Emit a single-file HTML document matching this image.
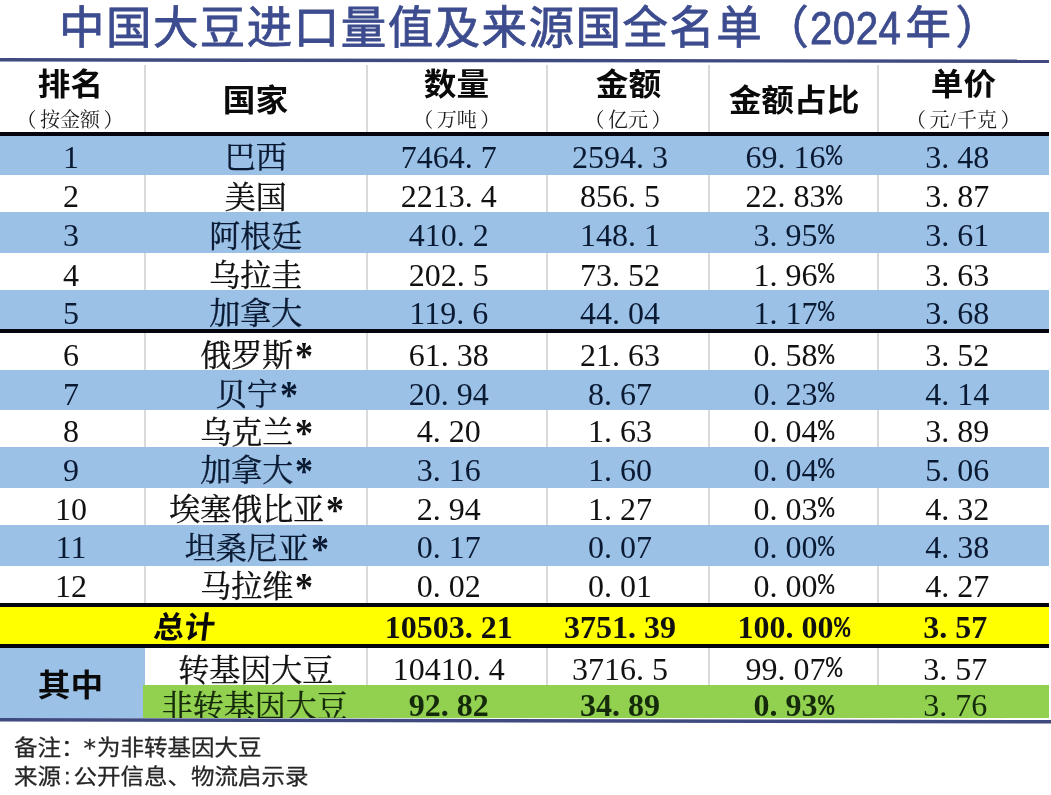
<!DOCTYPE html><html><head><meta charset="utf-8"><style>
*{margin:0;padding:0;box-sizing:border-box}
html,body{width:1051px;height:795px;overflow:hidden;background:#fff}
body{position:relative;font-family:"Liberation Serif","Noto Serif CJK SC",serif;color:#111}
.abs{position:absolute}
.title{position:absolute;left:59px;top:-1.3px;font-family:"Liberation Sans","Noto Sans CJK SC",sans-serif;font-weight:400;-webkit-text-stroke:0.8px #3d4c8e;font-size:45.5px;letter-spacing:1.45px;line-height:1.3;color:#3d4c8e;white-space:nowrap}
.title .dg{font-family:"Liberation Sans",sans-serif;display:inline-block;transform:scaleX(0.885);transform-origin:0 50%;margin-right:-8px;letter-spacing:0.5px}
.c{position:absolute;display:flex;align-items:center;justify-content:center;white-space:nowrap;font-size:32px;line-height:1}
.c>span,.c>div{display:block}
.n{padding-right:0.5em}
.d{display:inline-block;width:0.5em;text-align:left}
.p{display:inline-block;width:0.5em;text-align:left;line-height:0}
.p i{font-style:normal;font-family:"Liberation Mono",monospace;display:inline-block;transform:scale(0.85,0.93);transform-origin:0 78%}
.ast{display:inline-block;width:16px;margin-left:2px;text-align:left;font-family:"Liberation Serif",serif;font-weight:bold;font-size:40px;line-height:0;position:relative;top:3px;transform:scaleX(0.9);transform-origin:0 50%;-webkit-text-stroke:0}
.hb{font-family:"Liberation Sans","Noto Sans CJK SC",sans-serif;font-weight:700;font-size:30.5px;color:#0a0a0a;transform:scaleX(1.07);position:relative;top:2px}
.hs{font-family:"Liberation Serif","Noto Serif CJK SC",serif;font-size:20px;color:#1a1a1a;position:relative;top:1px}
.sl{font-family:"Liberation Serif",serif;font-size:19px;position:relative;top:-1px;margin:0 1px}.lp{margin-right:3.5px}.rp{margin-left:3.5px}
.cn{-webkit-text-stroke:0.35px currentColor;font-size:31px}
.vl{position:absolute;width:2px;background:#dadada}
.b{font-weight:bold}
.foot{position:absolute;left:14px;font-family:"Liberation Sans","Noto Sans CJK SC",sans-serif;font-size:23.5px;color:#262626;-webkit-text-stroke:0.3px #262626;white-space:nowrap;line-height:1;letter-spacing:0px;transform:scaleY(0.9);transform-origin:0 0}
.fa{font-family:"DejaVu Sans",sans-serif;font-size:25px;display:inline-block;line-height:0;position:relative;top:0.5px;margin-right:1px;margin-left:-1px}
.fc{margin:0 3px}
</style></head><body>
<div class="title">中国大豆进口量值及来源国全名单（<span class="dg">2024</span>年<span style="margin-left:3px">）</span></div>
<svg class="abs" style="left:0;top:0" width="1051" height="795"><polygon points="0,58 1049,59.6 1049,63 0,61.6" fill="#3f4a80"/></svg>
<div class="vl" style="left:144px;top:65px;height:67px"></div>
<div class="vl" style="left:365.5px;top:65px;height:67px"></div>
<div class="vl" style="left:546px;top:65px;height:67px"></div>
<div class="vl" style="left:708px;top:65px;height:67px"></div>
<div class="vl" style="left:877px;top:65px;height:67px"></div>
<div class="c " style="left:0px;width:145px;top:62px;height:40px;padding-bottom:0px;padding-right:5px"><span class="hb">排名</span></div>
<div class="c " style="left:0px;width:145px;top:103px;height:30px;padding-top:2px;padding-right:5px"><span class="hs"><span class="lp">（</span>按金额<span class="rp">）</span></span></div>
<div class="c " style="left:145px;width:221.5px;top:62px;height:70px;padding-top:3px"><span class="hb">国家</span></div>
<div class="c " style="left:366.5px;width:180.5px;top:62px;height:40px;padding-bottom:0px;padding-right:0px"><span class="hb">数量</span></div>
<div class="c " style="left:366.5px;width:180.5px;top:103px;height:30px;padding-top:2px;padding-right:0px"><span class="hs"><span class="lp">（</span>万吨<span class="rp">）</span></span></div>
<div class="c " style="left:547px;width:162px;top:62px;height:40px;padding-bottom:0px;padding-right:0px"><span class="hb">金额</span></div>
<div class="c " style="left:547px;width:162px;top:103px;height:30px;padding-top:2px;padding-right:0px"><span class="hs"><span class="lp">（</span>亿元<span class="rp">）</span></span></div>
<div class="c " style="left:709px;width:169px;top:62px;height:70px;padding-top:3px"><span class="hb">金额占比</span></div>
<div class="c " style="left:878px;width:170.5px;top:62px;height:40px;padding-bottom:0px;padding-right:0px"><span class="hb">单价</span></div>
<div class="c " style="left:878px;width:170.5px;top:103px;height:30px;padding-top:2px;padding-right:0px"><span class="hs"><span class="lp">（</span>元<span class="sl">/</span>千克<span class="rp">）</span></span></div>
<div class="abs" style="left:0;top:132px;width:1049px;height:4px;background:#050510"></div>
<div class="abs" style="left:0;top:136px;width:1049px;height:39px;background:#9bc1e6"></div>
<div class="c " style="left:0px;width:145px;top:136px;height:39px;color:#0b1a33;padding-top:2.8px;padding-right:3px;">1</div>
<div class="c " style="left:145px;width:221.5px;top:136px;height:39px;color:#0b1a33;padding-top:4.4px;"><span class="cn">巴西</span></div>
<div class="c " style="left:366.5px;width:180.5px;top:136px;height:39px;color:#0b1a33;padding-top:2.8px;"><span class="n">7464<span class="d">.</span>7</span></div>
<div class="c " style="left:547px;width:162px;top:136px;height:39px;color:#0b1a33;padding-top:2.8px;"><span class="n">2594<span class="d">.</span>3</span></div>
<div class="c " style="left:709px;width:169px;top:136px;height:39px;color:#0b1a33;padding-top:2.8px;">69<span class="d">.</span>16<span class="p"><i>%</i></span></div>
<div class="c " style="left:878px;width:170.5px;top:136px;height:39px;color:#0b1a33;padding-top:2.8px;padding-left:4px;"><span class="n">3<span class="d">.</span>48</span></div>
<div class="abs" style="left:0;top:175px;width:1049px;height:37px;background:#fff"></div>
<div class="vl" style="left:144px;top:175px;height:37px"></div>
<div class="vl" style="left:365.5px;top:175px;height:37px"></div>
<div class="vl" style="left:546px;top:175px;height:37px"></div>
<div class="vl" style="left:708px;top:175px;height:37px"></div>
<div class="vl" style="left:877px;top:175px;height:37px"></div>
<div class="c " style="left:0px;width:145px;top:175px;height:37px;color:#111;padding-top:5.4px;padding-right:3px;">2</div>
<div class="c " style="left:145px;width:221.5px;top:175px;height:37px;color:#111;padding-top:7.0px;"><span class="cn">美国</span></div>
<div class="c " style="left:366.5px;width:180.5px;top:175px;height:37px;color:#111;padding-top:5.4px;"><span class="n">2213<span class="d">.</span>4</span></div>
<div class="c " style="left:547px;width:162px;top:175px;height:37px;color:#111;padding-top:5.4px;"><span class="n">856<span class="d">.</span>5</span></div>
<div class="c " style="left:709px;width:169px;top:175px;height:37px;color:#111;padding-top:5.4px;">22<span class="d">.</span>83<span class="p"><i>%</i></span></div>
<div class="c " style="left:878px;width:170.5px;top:175px;height:37px;color:#111;padding-top:5.4px;padding-left:4px;"><span class="n">3<span class="d">.</span>87</span></div>
<div class="abs" style="left:0;top:212px;width:1049px;height:41px;background:#9bc1e6"></div>
<div class="c " style="left:0px;width:145px;top:212px;height:41px;color:#0b1a33;padding-top:5.4px;padding-right:3px;">3</div>
<div class="c " style="left:145px;width:221.5px;top:212px;height:41px;color:#0b1a33;padding-top:7.0px;"><span class="cn">阿根廷</span></div>
<div class="c " style="left:366.5px;width:180.5px;top:212px;height:41px;color:#0b1a33;padding-top:5.4px;"><span class="n">410<span class="d">.</span>2</span></div>
<div class="c " style="left:547px;width:162px;top:212px;height:41px;color:#0b1a33;padding-top:5.4px;"><span class="n">148<span class="d">.</span>1</span></div>
<div class="c " style="left:709px;width:169px;top:212px;height:41px;color:#0b1a33;padding-top:5.4px;">3<span class="d">.</span>95<span class="p"><i>%</i></span></div>
<div class="c " style="left:878px;width:170.5px;top:212px;height:41px;color:#0b1a33;padding-top:5.4px;padding-left:4px;"><span class="n">3<span class="d">.</span>61</span></div>
<div class="abs" style="left:0;top:253px;width:1049px;height:37px;background:#fff"></div>
<div class="vl" style="left:144px;top:253px;height:37px"></div>
<div class="vl" style="left:365.5px;top:253px;height:37px"></div>
<div class="vl" style="left:546px;top:253px;height:37px"></div>
<div class="vl" style="left:708px;top:253px;height:37px"></div>
<div class="vl" style="left:877px;top:253px;height:37px"></div>
<div class="c " style="left:0px;width:145px;top:253px;height:37px;color:#111;padding-top:6.6px;padding-right:3px;">4</div>
<div class="c " style="left:145px;width:221.5px;top:253px;height:37px;color:#111;padding-top:8.2px;"><span class="cn">乌拉圭</span></div>
<div class="c " style="left:366.5px;width:180.5px;top:253px;height:37px;color:#111;padding-top:6.6px;"><span class="n">202<span class="d">.</span>5</span></div>
<div class="c " style="left:547px;width:162px;top:253px;height:37px;color:#111;padding-top:6.6px;"><span class="n">73<span class="d">.</span>52</span></div>
<div class="c " style="left:709px;width:169px;top:253px;height:37px;color:#111;padding-top:6.6px;">1<span class="d">.</span>96<span class="p"><i>%</i></span></div>
<div class="c " style="left:878px;width:170.5px;top:253px;height:37px;color:#111;padding-top:6.6px;padding-left:4px;"><span class="n">3<span class="d">.</span>63</span></div>
<div class="abs" style="left:0;top:290px;width:1049px;height:39px;background:#9bc1e6"></div>
<div class="c " style="left:0px;width:145px;top:290px;height:39px;color:#0b1a33;padding-top:6.4px;padding-right:3px;">5</div>
<div class="c " style="left:145px;width:221.5px;top:290px;height:39px;color:#0b1a33;padding-top:8.0px;"><span class="cn">加拿大</span></div>
<div class="c " style="left:366.5px;width:180.5px;top:290px;height:39px;color:#0b1a33;padding-top:6.4px;"><span class="n">119<span class="d">.</span>6</span></div>
<div class="c " style="left:547px;width:162px;top:290px;height:39px;color:#0b1a33;padding-top:6.4px;"><span class="n">44<span class="d">.</span>04</span></div>
<div class="c " style="left:709px;width:169px;top:290px;height:39px;color:#0b1a33;padding-top:6.4px;">1<span class="d">.</span>17<span class="p"><i>%</i></span></div>
<div class="c " style="left:878px;width:170.5px;top:290px;height:39px;color:#0b1a33;padding-top:6.4px;padding-left:4px;"><span class="n">3<span class="d">.</span>68</span></div>
<div class="abs" style="left:0;top:333px;width:1049px;height:37px;background:#fff"></div>
<div class="vl" style="left:144px;top:333px;height:37px"></div>
<div class="vl" style="left:365.5px;top:333px;height:37px"></div>
<div class="vl" style="left:546px;top:333px;height:37px"></div>
<div class="vl" style="left:708px;top:333px;height:37px"></div>
<div class="vl" style="left:877px;top:333px;height:37px"></div>
<div class="c " style="left:0px;width:145px;top:333px;height:37px;color:#111;padding-top:7.2px;padding-right:3px;">6</div>
<div class="c " style="left:145px;width:221.5px;top:333px;height:37px;color:#111;padding-top:8.8px;"><span class="cn">俄罗斯<span class="ast">*</span></span></div>
<div class="c " style="left:366.5px;width:180.5px;top:333px;height:37px;color:#111;padding-top:7.2px;"><span class="n">61<span class="d">.</span>38</span></div>
<div class="c " style="left:547px;width:162px;top:333px;height:37px;color:#111;padding-top:7.2px;"><span class="n">21<span class="d">.</span>63</span></div>
<div class="c " style="left:709px;width:169px;top:333px;height:37px;color:#111;padding-top:7.2px;">0<span class="d">.</span>58<span class="p"><i>%</i></span></div>
<div class="c " style="left:878px;width:170.5px;top:333px;height:37px;color:#111;padding-top:7.2px;padding-left:4px;"><span class="n">3<span class="d">.</span>52</span></div>
<div class="abs" style="left:0;top:370px;width:1049px;height:40px;background:#9bc1e6"></div>
<div class="c " style="left:0px;width:145px;top:370px;height:40px;color:#0b1a33;padding-top:7.0px;padding-right:3px;">7</div>
<div class="c " style="left:145px;width:221.5px;top:370px;height:40px;color:#0b1a33;padding-top:8.6px;"><span class="cn">贝宁<span class="ast">*</span></span></div>
<div class="c " style="left:366.5px;width:180.5px;top:370px;height:40px;color:#0b1a33;padding-top:7.0px;"><span class="n">20<span class="d">.</span>94</span></div>
<div class="c " style="left:547px;width:162px;top:370px;height:40px;color:#0b1a33;padding-top:7.0px;"><span class="n">8<span class="d">.</span>67</span></div>
<div class="c " style="left:709px;width:169px;top:370px;height:40px;color:#0b1a33;padding-top:7.0px;">0<span class="d">.</span>23<span class="p"><i>%</i></span></div>
<div class="c " style="left:878px;width:170.5px;top:370px;height:40px;color:#0b1a33;padding-top:7.0px;padding-left:4px;"><span class="n">4<span class="d">.</span>14</span></div>
<div class="abs" style="left:0;top:410px;width:1049px;height:37px;background:#fff"></div>
<div class="vl" style="left:144px;top:410px;height:37px"></div>
<div class="vl" style="left:365.5px;top:410px;height:37px"></div>
<div class="vl" style="left:546px;top:410px;height:37px"></div>
<div class="vl" style="left:708px;top:410px;height:37px"></div>
<div class="vl" style="left:877px;top:410px;height:37px"></div>
<div class="c " style="left:0px;width:145px;top:410px;height:37px;color:#111;padding-top:5.6px;padding-right:3px;">8</div>
<div class="c " style="left:145px;width:221.5px;top:410px;height:37px;color:#111;padding-top:7.2px;"><span class="cn">乌克兰<span class="ast">*</span></span></div>
<div class="c " style="left:366.5px;width:180.5px;top:410px;height:37px;color:#111;padding-top:5.6px;"><span class="n">4<span class="d">.</span>20</span></div>
<div class="c " style="left:547px;width:162px;top:410px;height:37px;color:#111;padding-top:5.6px;"><span class="n">1<span class="d">.</span>63</span></div>
<div class="c " style="left:709px;width:169px;top:410px;height:37px;color:#111;padding-top:5.6px;">0<span class="d">.</span>04<span class="p"><i>%</i></span></div>
<div class="c " style="left:878px;width:170.5px;top:410px;height:37px;color:#111;padding-top:5.6px;padding-left:4px;"><span class="n">3<span class="d">.</span>89</span></div>
<div class="abs" style="left:0;top:447px;width:1049px;height:41px;background:#9bc1e6"></div>
<div class="c " style="left:0px;width:145px;top:447px;height:41px;color:#0b1a33;padding-top:4.4px;padding-right:3px;">9</div>
<div class="c " style="left:145px;width:221.5px;top:447px;height:41px;color:#0b1a33;padding-top:6.0px;"><span class="cn">加拿大<span class="ast">*</span></span></div>
<div class="c " style="left:366.5px;width:180.5px;top:447px;height:41px;color:#0b1a33;padding-top:4.4px;"><span class="n">3<span class="d">.</span>16</span></div>
<div class="c " style="left:547px;width:162px;top:447px;height:41px;color:#0b1a33;padding-top:4.4px;"><span class="n">1<span class="d">.</span>60</span></div>
<div class="c " style="left:709px;width:169px;top:447px;height:41px;color:#0b1a33;padding-top:4.4px;">0<span class="d">.</span>04<span class="p"><i>%</i></span></div>
<div class="c " style="left:878px;width:170.5px;top:447px;height:41px;color:#0b1a33;padding-top:4.4px;padding-left:4px;"><span class="n">5<span class="d">.</span>06</span></div>
<div class="abs" style="left:0;top:488px;width:1049px;height:37px;background:#fff"></div>
<div class="vl" style="left:144px;top:488px;height:37px"></div>
<div class="vl" style="left:365.5px;top:488px;height:37px"></div>
<div class="vl" style="left:546px;top:488px;height:37px"></div>
<div class="vl" style="left:708px;top:488px;height:37px"></div>
<div class="vl" style="left:877px;top:488px;height:37px"></div>
<div class="c " style="left:0px;width:145px;top:488px;height:37px;color:#111;padding-top:4.6px;padding-right:3px;">10</div>
<div class="c " style="left:145px;width:221.5px;top:488px;height:37px;color:#111;padding-top:6.2px;"><span class="cn">埃塞俄比亚<span class="ast">*</span></span></div>
<div class="c " style="left:366.5px;width:180.5px;top:488px;height:37px;color:#111;padding-top:4.6px;"><span class="n">2<span class="d">.</span>94</span></div>
<div class="c " style="left:547px;width:162px;top:488px;height:37px;color:#111;padding-top:4.6px;"><span class="n">1<span class="d">.</span>27</span></div>
<div class="c " style="left:709px;width:169px;top:488px;height:37px;color:#111;padding-top:4.6px;">0<span class="d">.</span>03<span class="p"><i>%</i></span></div>
<div class="c " style="left:878px;width:170.5px;top:488px;height:37px;color:#111;padding-top:4.6px;padding-left:4px;"><span class="n">4<span class="d">.</span>32</span></div>
<div class="abs" style="left:0;top:525px;width:1049px;height:41px;background:#9bc1e6"></div>
<div class="c " style="left:0px;width:145px;top:525px;height:41px;color:#0b1a33;padding-top:3.4px;padding-right:3px;">11</div>
<div class="c " style="left:145px;width:221.5px;top:525px;height:41px;color:#0b1a33;padding-top:5.0px;"><span class="cn">坦桑尼亚<span class="ast">*</span></span></div>
<div class="c " style="left:366.5px;width:180.5px;top:525px;height:41px;color:#0b1a33;padding-top:3.4px;"><span class="n">0<span class="d">.</span>17</span></div>
<div class="c " style="left:547px;width:162px;top:525px;height:41px;color:#0b1a33;padding-top:3.4px;"><span class="n">0<span class="d">.</span>07</span></div>
<div class="c " style="left:709px;width:169px;top:525px;height:41px;color:#0b1a33;padding-top:3.4px;">0<span class="d">.</span>00<span class="p"><i>%</i></span></div>
<div class="c " style="left:878px;width:170.5px;top:525px;height:41px;color:#0b1a33;padding-top:3.4px;padding-left:4px;"><span class="n">4<span class="d">.</span>38</span></div>
<div class="abs" style="left:0;top:566px;width:1049px;height:37px;background:#fff"></div>
<div class="vl" style="left:144px;top:566px;height:37px"></div>
<div class="vl" style="left:365.5px;top:566px;height:37px"></div>
<div class="vl" style="left:546px;top:566px;height:37px"></div>
<div class="vl" style="left:708px;top:566px;height:37px"></div>
<div class="vl" style="left:877px;top:566px;height:37px"></div>
<div class="c " style="left:0px;width:145px;top:566px;height:37px;color:#111;padding-top:2.6px;padding-right:3px;">12</div>
<div class="c " style="left:145px;width:221.5px;top:566px;height:37px;color:#111;padding-top:4.2px;"><span class="cn">马拉维<span class="ast">*</span></span></div>
<div class="c " style="left:366.5px;width:180.5px;top:566px;height:37px;color:#111;padding-top:2.6px;"><span class="n">0<span class="d">.</span>02</span></div>
<div class="c " style="left:547px;width:162px;top:566px;height:37px;color:#111;padding-top:2.6px;"><span class="n">0<span class="d">.</span>01</span></div>
<div class="c " style="left:709px;width:169px;top:566px;height:37px;color:#111;padding-top:2.6px;">0<span class="d">.</span>00<span class="p"><i>%</i></span></div>
<div class="c " style="left:878px;width:170.5px;top:566px;height:37px;color:#111;padding-top:2.6px;padding-left:4px;"><span class="n">4<span class="d">.</span>27</span></div>
<div class="abs" style="left:0;top:329px;width:1049px;height:4px;background:#050510"></div>
<div class="abs" style="left:0;top:603px;width:1049px;height:4px;background:#050510"></div>
<div class="abs" style="left:0;top:607px;width:1049px;height:37px;background:#ffff00"></div>
<div class="abs" style="left:0;top:644px;width:1049px;height:4px;background:#050510"></div>
<div class="c " style="left:0px;width:366.5px;top:607px;height:37px;padding-top:0px;padding-left:3px"><span class="hb" style="font-size:30.5px;transform:skewX(-7deg)">总计</span></div>
<div class="c " style="left:366.5px;width:180.5px;top:607px;height:37px;padding-top:2px"><span class="n b">10503<span class="d">.</span>21</span></div>
<div class="c " style="left:547px;width:162px;top:607px;height:37px;padding-top:2px"><span class="n b">3751<span class="d">.</span>39</span></div>
<div class="c " style="left:709px;width:169px;top:607px;height:37px;padding-top:2px"><span class="b">100<span class="d">.</span>00<span class="p"><i>%</i></span></span></div>
<div class="c " style="left:878px;width:170.5px;top:607px;height:37px;padding-top:2px"><span class="n b">3<span class="d">.</span>57</span></div>
<div class="abs" style="left:0;top:648px;width:145px;height:70px;background:#9bc1e6"></div>
<div class="c " style="left:0px;width:145px;top:648px;height:70px;padding-right:4px"><span class="hb">其中</span></div>
<div class="abs" style="left:145px;top:648px;width:904px;height:37px;background:#fff"></div>
<div class="vl" style="left:365.5px;top:648px;height:37px"></div>
<div class="vl" style="left:546px;top:648px;height:37px"></div>
<div class="vl" style="left:708px;top:648px;height:37px"></div>
<div class="vl" style="left:877px;top:648px;height:37px"></div>
<div class="c " style="left:145px;width:221.5px;top:648px;height:37px;padding-top:8px"><span class="cn">转基因大豆</span></div>
<div class="c " style="left:366.5px;width:180.5px;top:648px;height:37px;padding-top:4px"><span class="n">10410<span class="d">.</span>4</span></div>
<div class="c " style="left:547px;width:162px;top:648px;height:37px;padding-top:4px"><span class="n">3716<span class="d">.</span>5</span></div>
<div class="c " style="left:709px;width:169px;top:648px;height:37px;padding-top:4px">99<span class="d">.</span>07<span class="p"><i>%</i></span></div>
<div class="c " style="left:878px;width:170.5px;top:648px;height:37px;padding-top:4px"><span class="n">3<span class="d">.</span>57</span></div>
<div class="abs" style="left:143px;top:685px;width:906px;height:33px;background:#92d050"></div>
<div class="c " style="left:143px;width:223.5px;top:685px;height:33px;color:#142a0a;overflow:hidden;padding-top:10px"><span class="cn">非转基因大豆</span></div>
<div class="c " style="left:366.5px;width:180.5px;top:685px;height:33px;color:#142a0a;overflow:hidden;padding-top:7px"><span class="n b">92<span class="d">.</span>82</span></div>
<div class="c " style="left:547px;width:162px;top:685px;height:33px;color:#142a0a;overflow:hidden;padding-top:7px"><span class="n b">34<span class="d">.</span>89</span></div>
<div class="c " style="left:709px;width:169px;top:685px;height:33px;color:#142a0a;overflow:hidden;padding-top:7px"><span class="b">0<span class="d">.</span>93<span class="p"><i>%</i></span></span></div>
<div class="c " style="left:878px;width:170.5px;top:685px;height:33px;color:#142a0a;overflow:hidden;padding-top:7px"><span class="n">3<span class="d">.</span>76</span></div>
<svg class="abs" style="left:0;top:0" width="1051" height="795"><polygon points="0,718 1051,720 1051,723.6 0,721.5" fill="#3f4a80"/></svg>
<div class="foot" style="top:738.2px">备注：<span class="fa">*</span>为非转基因大豆</div>
<div class="foot" style="top:767px">来源<span class="fc">:</span>公开信息、物流启示录</div>
</body></html>
